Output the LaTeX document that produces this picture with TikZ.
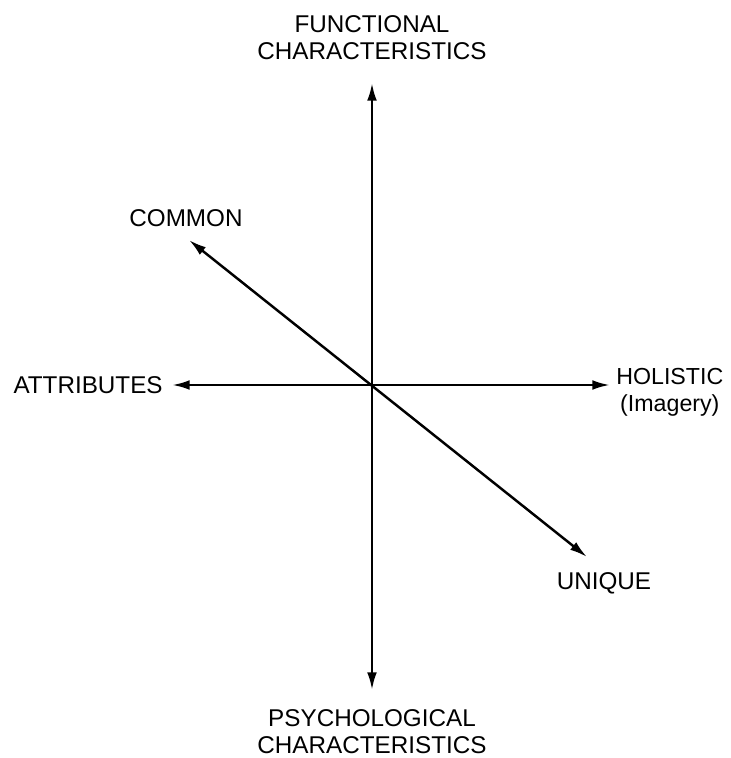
\documentclass[tikz,border=0pt]{standalone}
\usepackage{fontspec}
\setmainfont{Liberation Sans}
\usepackage{tikz}
\usetikzlibrary{
  arrows.meta,
  positioning
}
\tikzset{
  every node/.style={inner sep=0pt}
}

\begin{document}
\begin{tikzpicture}[
    font=\fontsize{13.8}{15.4}\selectfont,
    axis/.style={{Latex[length=10pt,width=5.5pt]}-{Latex[length=10pt,width=5.5pt]}, line width=1.4pt},
    lbl/.style={align=center}
]
    \useasboundingbox (-7.44,-7.46) rectangle (7.16,7.70);

    % axis ends
    \coordinate (origin) at (0,0);
    \coordinate (tipTop) at (0,6.04);
    \coordinate (tipBottom) at (0,-6.10);
    \coordinate (tipLeft) at (-4.00,0);
    \coordinate (tipRight) at (4.76,0);
    \coordinate (tipCommon) at (-3.66,2.90);
    \coordinate (tipUnique) at (4.30,-3.44);

    % labels
    \node[lbl, above=0.46cm of tipTop] (functional) {FUNCTIONAL\\CHARACTERISTICS};
    \node[lbl, below=0.38cm of tipBottom] (psychological) {PSYCHOLOGICAL\\CHARACTERISTICS};
    \node[lbl, left=0.18cm of tipLeft] (attributes) {ATTRIBUTES};
    \node[lbl, right=0.12cm of tipRight, yshift=-0.14cm, font=\fontsize{13.2}{15.4}\selectfont] (holistic) {HOLISTIC\\(Imagery)};
    \node[lbl, above=0.26cm of tipCommon, xshift=-0.06cm] (common) {COMMON};
    \node[lbl, below=0.30cm of tipUnique, xshift=0.34cm] (unique) {UNIQUE};

    % axes
    \draw[axis] (tipTop) -- (tipBottom);
    \draw[axis] (tipLeft) -- (tipRight);
    \draw[axis] (tipCommon) -- (tipUnique);

\end{tikzpicture}
\end{document}
